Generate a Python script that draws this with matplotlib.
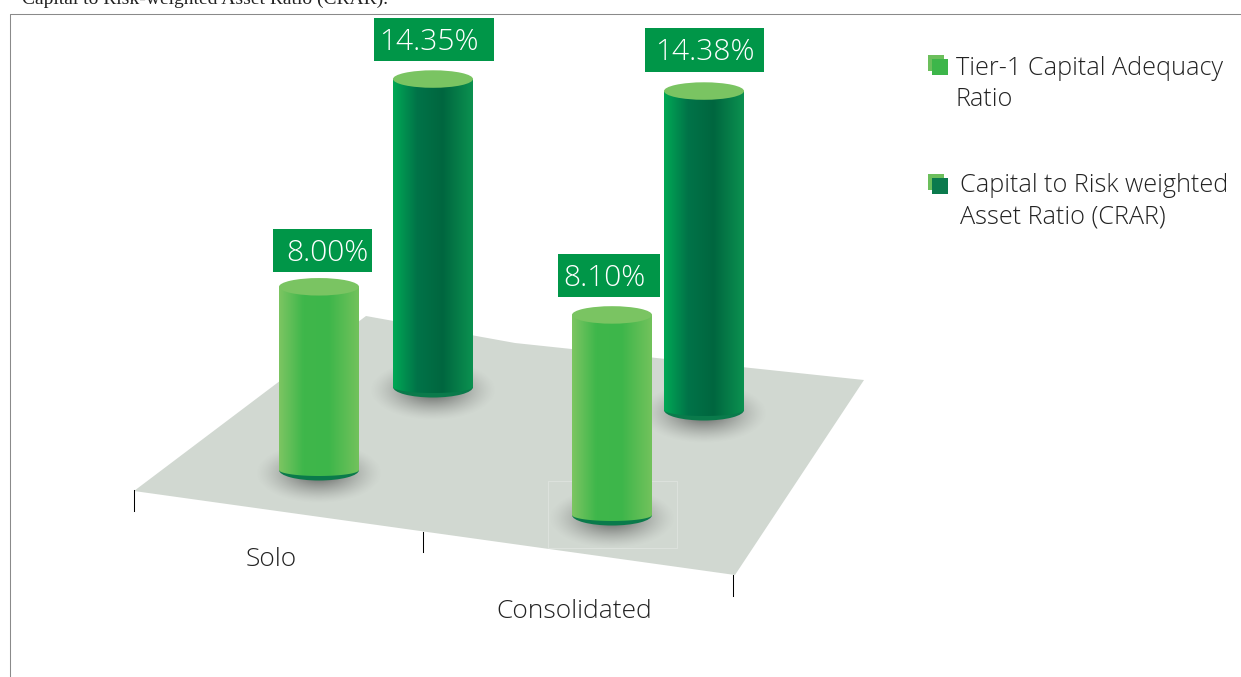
import numpy as np
import matplotlib.pyplot as plt
from matplotlib.colors import LinearSegmentedColormap
from matplotlib.patches import Ellipse, Polygon, Rectangle

# valores
categories = ["Solo", "Consolidated"]
tier1 = [8.00, 8.10]
crar = [14.35, 14.38]
series_names = ["Tier-1 Capital Adequacy\nRatio", "Capital to Risk weighted\nAsset Ratio (CRAR)"]
caption = "Capital to Risk-weighted Asset Ratio (CRAR)."

# colores
light_stops = ["#7CC562", "#3FB74B", "#3DB64A", "#72C25C"]
dark_stops = ["#00A855", "#007348", "#00663F", "#0B9150"]
top_light = "#7AC462"
rim_dark = "#0A7A4B"
box_green = "#009648"
plane_color = "#D1D8D1"

W, H = 1241, 677
fig = plt.figure(figsize=(W / 100, H / 100), dpi=100)
ax = fig.add_axes([0, 0, 1, 1])
ax.axis("off")
plt.rcParams["font.family"] = ["Lato", "DejaVu Sans"]

RX = 40
RY = 8.5


def shadow(cx, base):
    # sombra suave debajo del cilindro
    xs = np.linspace(cx - 70, cx + 70, 140)
    ys = np.linspace(base - 25, base + 38, 63)
    gx, gy = np.meshgrid(xs, ys)
    d = np.sqrt(((gx - cx) / 64) ** 2 + ((gy - base - 3) / 31) ** 2)
    img = np.zeros(gx.shape + (4,))
    img[..., :3] = 0.22
    img[..., 3] = 0.8 * np.clip(1 - d, 0, 1) ** 1.4
    ax.imshow(img, extent=[xs[0], xs[-1], ys[-1], ys[0]], aspect="auto", zorder=2)


def cylinder(cx, base, height, stops, rim, z):
    top = base - height
    ax.add_patch(Ellipse((cx, base), 2 * RX, 21, color=rim, lw=0, zorder=z))
    cmap = LinearSegmentedColormap.from_list("cyl", list(zip([0, 0.3, 0.62, 1], stops)))
    grad = np.linspace(0, 1, 160).reshape(1, -1)
    im = ax.imshow(grad, cmap=cmap, extent=[cx - RX, cx + RX, base + 6, top], aspect="auto", zorder=z + 0.1)
    # silueta del cuerpo: rectangulo con base curva
    t = np.linspace(0, np.pi, 60)
    arc = np.column_stack([cx + RX * np.cos(t), base + 6 * np.sin(t)])
    body = Polygon(np.vstack([[[cx + RX, top]], arc, [[cx - RX, top]]]), transform=ax.transData, fc="none", lw=0)
    ax.add_patch(body)
    im.set_clip_path(body)
    ax.add_patch(Ellipse((cx, top), 2 * RX, 2 * RY + 0.5, color=top_light, lw=0, zorder=z + 0.2))


def value_box(x0, x1, y0, y1, tx, value):
    ax.add_patch(Rectangle((x0, y0), x1 - x0, y1 - y0, color=box_green, lw=0, zorder=8))
    ax.text(tx, (y0 + y1) / 2 - 1, "%.2f%%" % value, color="white", fontsize=21.5,
            family="Open Sans", fontweight="light", ha="center", va="center_baseline", zorder=9)


# marco y texto cortado arriba
ax.plot([W, 10, 10], [13.5, 13.5, H], color="#8A8A8A", lw=0.75, zorder=1)
ax.text(22, 3.5, caption, family="Liberation Serif", fontsize=14, color="#222222", va="baseline", ha="left")

# plano
ax.add_patch(Polygon([(134, 491), (366, 316), (515, 343), (864, 380), (735, 575)], color=plane_color, lw=0, zorder=1))
ax.add_patch(Rectangle((548, 481), 129, 67, fc="none", ec="#DDE2DD", lw=0.7, zorder=1.5))
for tx, y0, y1 in [(134, 490, 511), (423, 532, 552), (733, 575, 596)]:
    ax.plot([tx, tx], [y0, y1], color="black", lw=0.75, zorder=3)

# cilindros: posicion de base y escala de perspectiva
centers_t1 = [319, 612]
bases_t1 = [470, 515]
scales_t1 = [22.9, 24.7]
centers_cr = [433, 704]
bases_cr = [387, 410]
scales_cr = [21.46, 22.18]

for cx, base in zip(centers_cr + centers_t1, bases_cr + bases_t1):
    shadow(cx, base)
for i in range(len(categories)):
    cylinder(centers_cr[i], bases_cr[i], crar[i] * scales_cr[i], dark_stops, rim_dark, 4 + i)
    cylinder(centers_t1[i], bases_t1[i], tier1[i] * scales_t1[i], light_stops, rim_dark, 6 + i)

value_box(273, 372, 229, 272, 327, tier1[0])
value_box(374, 494, 17.5, 61, 428.5, crar[0])
value_box(558, 660, 254, 297, 604, tier1[1])
value_box(645, 764, 28, 72, 705, crar[1])

# etiquetas del eje
ax.text(271.5, 566.5, categories[0], fontsize=19, family="Open Sans", fontweight="light", color="#222222", ha="center", va="baseline")
ax.text(574.5, 617.5, categories[1], fontsize=19, family="Open Sans", fontweight="light", color="#222222", ha="center", va="baseline")

# leyenda
for y, front, tx, name in [(55, "#3DB64A", 956, series_names[0]), (174, "#0B7A4D", 959.5, series_names[1])]:
    ax.add_patch(Rectangle((928, y), 16, 16, color="#6CBF5C", lw=0, zorder=3))
    ax.add_patch(Rectangle((932, y + 4), 16, 16, color=front, lw=0, zorder=4))
    l1, l2 = name.split("\n")
    base = 75 if y == 55 else 191.5
    ax.text(tx, base, l1, fontsize=18.2, family="Open Sans", fontweight="light", color="#222222", va="baseline")
    ax.text(tx, base + 31.5, l2, fontsize=18.2, family="Open Sans", fontweight="light", color="#222222", va="baseline")

ax.set_xlim(0, W)
ax.set_ylim(H, 0)
fig.savefig("out.png", dpi=100)
